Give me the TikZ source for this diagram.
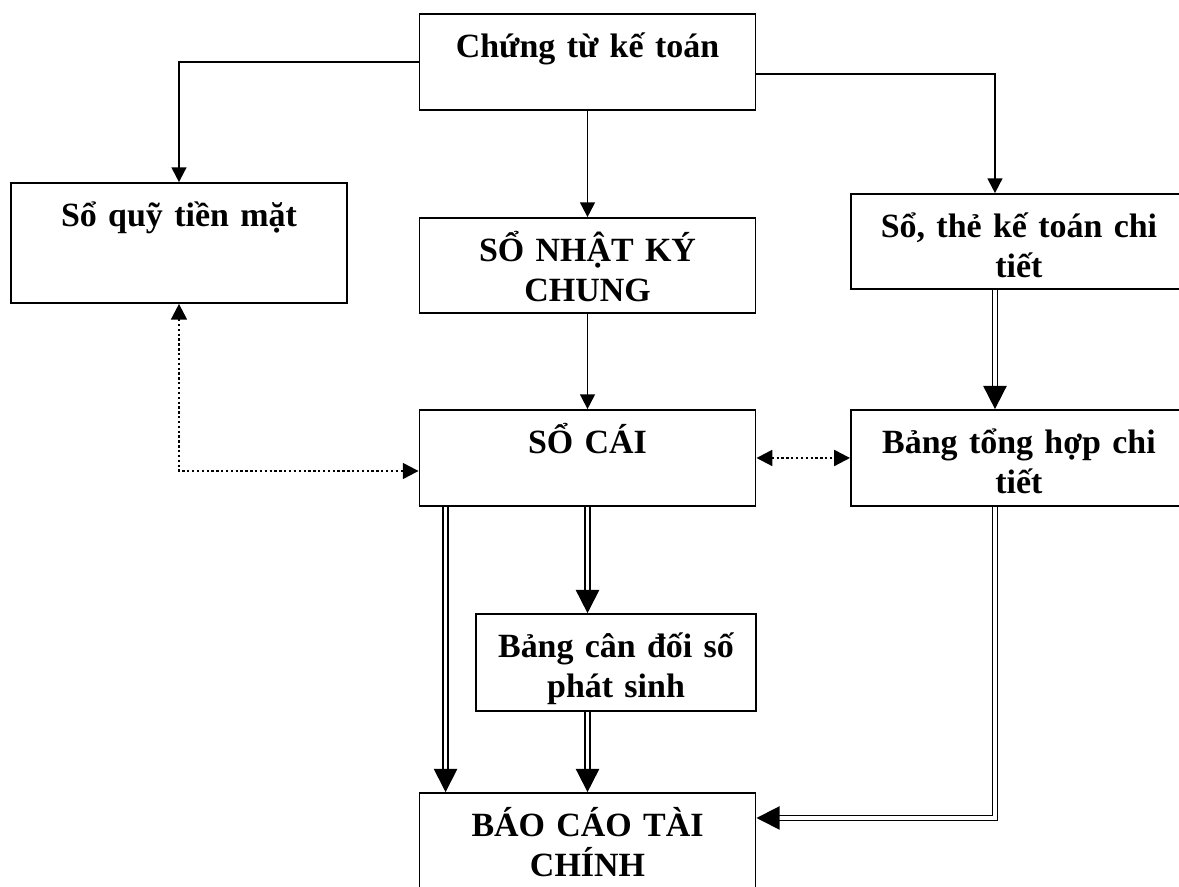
\documentclass[tikz,border=0pt]{standalone}
\usepackage{fontspec}
\setmainfont{Liberation Serif}
\usetikzlibrary{arrows.meta,positioning}
\tikzset{
  box/.style={
    draw,
    rectangle,
    line width=0.9pt,
    inner sep=0pt,
    text width=5.6cm,
    align=center,
    text height=7.3mm,
    font=\fontsize{16.1}{18.8}\selectfont\bfseries,
  },
  arr/.style={line width=0.9pt, -{Triangle[length=7pt,width=7pt]}},
  dbl/.style={double, double distance=1.5pt, line width=0.85pt, -{Triangle[length=11pt,width=11pt]}},
  link/.style={line width=1.1pt, dash pattern=on 1.1pt off 1.2pt,
    {Triangle[length=7.5pt,width=7.5pt]}-{Triangle[length=7.5pt,width=7.5pt]}},
}
\begin{document}
\begin{tikzpicture}
  \useasboundingbox (0,0) rectangle (19.65,-14.767);
  \node[box, text depth=8.67mm] (chung) at (9.792,-1.033) {Chứng từ kế toán};
  \node[box, text depth=12.67mm] (quy) at (2.983,-4.05) {Sổ quỹ tiền mặt};
  \node[box, text depth=8.5mm] (nkc) at (9.792,-4.425) {SỔ NHẬT KÝ\\CHUNG};
  \node[box, text depth=8.5mm] (sct) at (16.983,-4.025) {Sổ, thẻ kế toán chi\\tiết};
  \node[box, text depth=8.67mm] (socai) at (9.792,-7.633) {SỔ CÁI};
  \node[box, text depth=8.67mm] (bth) at (16.983,-7.633) {Bảng tổng hợp chi\\tiết};
  \node[box, text depth=8.83mm, text width=4.67cm] (bcd) at (10.267,-11.042) {Bảng cân đối số\\phát sinh};
  \node[box, text depth=9mm] (bctc) at (9.792,-14.033) {BÁO CÁO TÀI\\CHÍNH};
  \draw[arr] (chung.west) -| (quy.north);
  \draw[arr] (chung) -- (nkc);
  \draw[arr] ([yshift=-2mm]chung.east) -| ([xshift=-4mm]sct.north);
  \draw[arr] (nkc) -- (socai);
  \draw[dbl] ([xshift=-4mm]sct.south) -- ([xshift=-4mm]bth.north);
  \draw[link] (quy.south) |- ([yshift=-2.17mm]socai.west);
  \draw[link] (socai.east) -- (bth.west);
  \draw[dbl] (socai.south) -- (socai.south |- bcd.north);
  \draw[dbl] ([xshift=4.5mm]socai.south west) -- ([xshift=4.5mm]bctc.north west);
  \draw[dbl] (bctc.north |- bcd.south) -- (bctc.north);
  \draw[dbl] ([xshift=-4mm]bth.south) |- ([yshift=4mm]bctc.east);
\end{tikzpicture}
\end{document}
